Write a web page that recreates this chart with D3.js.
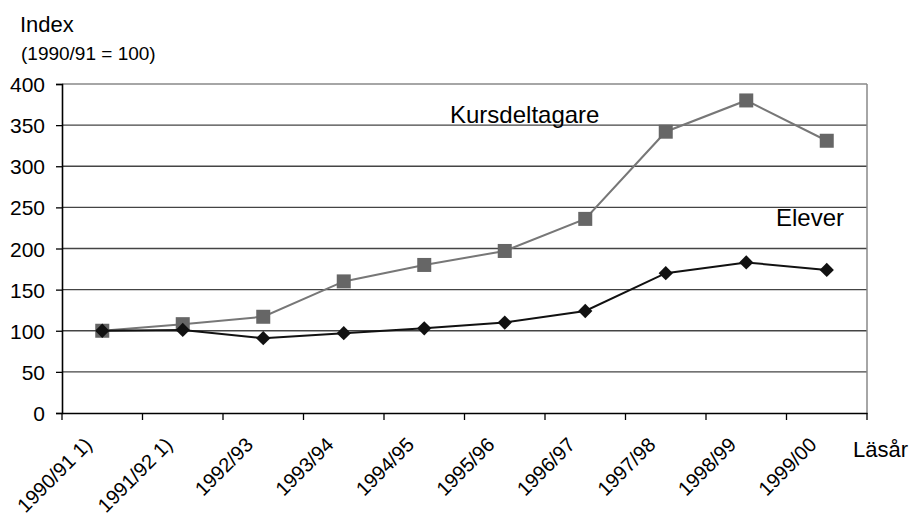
<!DOCTYPE html>
<meta charset="utf-8">
<html>
<head>
<script src="https://d3js.org/d3.v7.min.js"></script>
<style>
  body { margin: 0; background: #fff; }
  text { font-family: "Liberation Sans", Arial, sans-serif; fill: #000; }
</style>
</head>
<body>
<div id="chart"></div>
<script>
  // data
  const years = ["1990/91 1)", "1991/92 1)", "1992/93", "1993/94", "1994/95",
                 "1995/96", "1996/97", "1997/98", "1998/99", "1999/00"];
  const kursdeltagare = [100, 108, 117, 160, 180, 197, 236, 342, 380, 331];
  const elever = [100, 101, 91, 97, 103, 110, 124, 170, 183, 174];
  const yTicks = [0, 50, 100, 150, 200, 250, 300, 350, 400];

  const W = 912, H = 517;
  const margin = {top: 84, right: 45, bottom: 104, left: 62};
  const width = W - margin.left - margin.right,
        height = H - margin.top - margin.bottom;

  const svg = d3.select("#chart").append("svg")
      .attr("width", W).attr("height", H);
  const g = svg.append("g")
      .attr("transform", `translate(${margin.left},${margin.top})`);

  const x = d3.scaleBand().domain(years).range([0, width]);
  const y = d3.scaleLinear().domain([0, 400]).range([height, 0]);

  // grid lines
  g.append("g").selectAll("line")
    .data(yTicks.filter(d => d > 0))
    .join("line")
      .attr("x1", 0).attr("x2", width)
      .attr("y1", d => y(d)).attr("y2", d => y(d))
      .attr("stroke", d => d == 400 ? "#888" : "#444")
      .attr("stroke-width", 1.3);

  // right border
  g.append("line")
    .attr("x1", width).attr("x2", width)
    .attr("y1", 0).attr("y2", height)
    .attr("stroke", "#888").attr("stroke-width", 1.5);

  // y axis
  const yAxis = g.append("g")
    .call(d3.axisLeft(y).tickValues(yTicks).tickSize(6).tickPadding(11));
  yAxis.select(".domain").attr("stroke", "#000").attr("stroke-width", 1.6);
  yAxis.selectAll(".tick line").attr("stroke", "#000").attr("stroke-width", 1.3);
  yAxis.selectAll("text").style("font-size", "21px").attr("dy", "0.36em");

  // x axis, ticks at band edges
  const xAxis = g.append("g").attr("transform", `translate(0,${height})`)
    .call(d3.axisBottom(x).tickSize(0).tickFormat(""));
  xAxis.select(".domain").attr("stroke", "#000").attr("stroke-width", 1.6);
  const edges = years.map(d => x(d)).concat([width]);
  xAxis.selectAll(".edge").data(edges).join("line")
    .attr("class", "edge")
    .attr("x1", d => d).attr("x2", d => d)
    .attr("y1", 0).attr("y2", 7)
    .attr("stroke", "#000").attr("stroke-width", 1.3);
  xAxis.selectAll(".lab").data(years).join("text")
    .attr("class", "lab")
    .attr("text-anchor", "end")
    .attr("transform", d => `translate(${x(d) + x.bandwidth() / 2 - 9},${33}) rotate(-45)`)
    .style("font-size", "20px")
    .text(d => d);

  const cx = d => x(d) + x.bandwidth() / 2;

  // Kursdeltagare
  const kData = years.map((d, i) => ({year: d, v: kursdeltagare[i]}));
  g.append("path").datum(kData)
    .attr("fill", "none").attr("stroke", "#777").attr("stroke-width", 2)
    .attr("d", d3.line().x(d => cx(d.year)).y(d => y(d.v)));
  g.selectAll(".sq").data(kData).join("rect")
    .attr("class", "sq")
    .attr("x", d => cx(d.year) - 7).attr("y", d => y(d.v) - 7)
    .attr("width", 14).attr("height", 14)
    .attr("fill", "#666");

  // Elever
  const eData = years.map((d, i) => ({year: d, v: elever[i]}));
  g.append("path").datum(eData)
    .attr("fill", "none").attr("stroke", "#111").attr("stroke-width", 2)
    .attr("d", d3.line().x(d => cx(d.year)).y(d => y(d.v)));
  g.selectAll(".dm").data(eData).join("path")
    .attr("class", "dm")
    .attr("transform", d => `translate(${cx(d.year)},${y(d.v)})`)
    .attr("d", d3.symbol().type(d3.symbolDiamond2).size(130))
    .attr("fill", "#111");

  // labels
  svg.append("text").attr("x", 20).attr("y", 32).style("font-size", "22px").text("Index");
  svg.append("text").attr("x", 21).attr("y", 60).style("font-size", "19px").text("(1990/91 = 100)");
  svg.append("text").attr("x", 450).attr("y", 123).style("font-size", "24px").text("Kursdeltagare");
  svg.append("text").attr("x", 776).attr("y", 226).style("font-size", "24px").text("Elever");
  svg.append("text").attr("x", 853).attr("y", 457).style("font-size", "22px").text("Läsår");
</script>
</body>
</html>
